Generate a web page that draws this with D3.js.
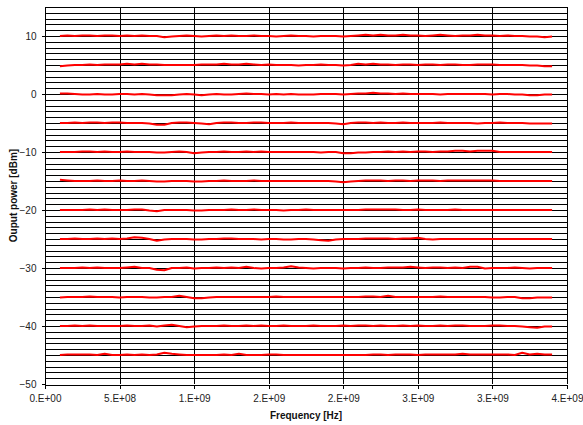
<!DOCTYPE html>
<html><head><meta charset="utf-8">
<script src="https://cdn.jsdelivr.net/npm/d3@7"></script>
<style>body{margin:0;background:#fff;} svg{display:block;font-family:"Liberation Sans",Arial,sans-serif;}</style>
</head><body><svg id="c" width="583" height="425"></svg>
<script>
// frequency grid: 1.0E8 .. 3.4E9 Hz in 5E7 steps (67 samples)
const freqStart = 1e8, freqStep = 5e7, nSamples = 67;
const xTicks = [0, 5e8, 1e9, 1.5e9, 2e9, 2.5e9, 3e9, 3.5e9];
const xTickLabels = ["0.E+00","5.E+08","1.E+09","2.E+09","2.E+09","3.E+09","3.E+09","4.E+09"];
const yTicks = [10, 0, -10, -20, -30, -40, -50];

const p10 = [10.0,10.1,10.0,10.1,10.1,10.0,10.1,10.1,10.0,10.1,10.0,10.1,10.0,10.0,
 9.8,9.9,10.0,10.1,
 10.0,9.9,10.0,10.1,10.0,10.1,10.0,10.0,10.1,10.0,10.0,9.9,10.0,10.1,10.0,10.0,9.9,10.0,
 10.0,10.0,9.9,10.0,10.1,10.2,10.1,10.2,10.1,10.1,10.2,10.1,10.1,10.0,
 10.1,10.2,10.1,10.0,10.1,10.1,10.2,10.1,10.1,10.0,10.1,10.0,10.0,9.9,9.9,9.8,9.9];
const p5 = [4.8,4.9,5.0,5.0,5.1,5.0,5.1,5.1,5.1,5.2,5.1,5.2,5.1,5.1,
 5.0,5.0,5.0,5.0,
 5.0,5.1,5.1,5.1,5.2,5.1,5.1,5.2,5.1,5.0,5.1,5.0,5.0,5.0,4.9,5.0,5.0,5.1,
 5.0,5.0,4.9,5.0,5.2,5.1,5.2,5.1,5.1,5.0,5.1,5.1,5.0,5.1,
 5.1,5.0,5.1,5.1,5.0,5.0,5.1,5.1,5.1,5.0,5.0,5.0,5.0,4.9,4.9,4.8,4.8];
const p0 = [0.1,0.1,0.0,-0.1,-0.1,0.0,-0.1,-0.1,0.0,0.0,-0.1,0.0,-0.1,-0.2,
 -0.2,-0.2,-0.1,0.0,
 -0.1,-0.2,-0.1,0.0,-0.1,-0.1,0.0,0.1,0.0,0.0,-0.1,0.0,-0.1,0.0,-0.1,-0.1,-0.1,0.0,
 0.0,0.0,-0.1,0.0,0.1,0.1,0.2,0.1,0.1,0.0,0.1,0.0,0.0,0.0,
 0.0,-0.1,0.0,0.0,0.0,0.0,0.0,0.0,-0.1,0.0,0.0,-0.1,-0.1,-0.2,-0.2,-0.1,-0.1];
const m5 = [-5.0,-5.0,-4.9,-5.0,-4.9,-4.9,-5.0,-4.9,-4.9,-5.0,-5.0,-5.0,-5.1,-5.3,
 -5.3,-5.0,-4.9,-4.9,
 -5.0,-5.1,-5.2,-5.0,-4.9,-4.9,-5.0,-5.0,-4.9,-4.9,-5.0,-5.0,-5.0,-4.9,-5.0,-5.0,-5.0,-5.0,
 -5.0,-5.1,-5.2,-5.0,-4.9,-4.9,-5.0,-4.9,-5.0,-5.0,-4.9,-5.0,-5.0,-5.0,
 -5.0,-4.9,-5.0,-5.0,-5.0,-5.0,-5.1,-5.0,-5.0,-4.9,-5.0,-5.0,-5.0,-5.1,-5.1,-5.1,-5.1];
const m10 = [-10.0,-10.0,-10.0,-9.9,-9.9,-10.0,-9.9,-10.0,-10.0,-9.9,-10.0,-10.0,-10.0,-10.1,
 -10.1,-10.0,-9.9,-10.0,
 -10.2,-10.1,-10.0,-10.0,-9.9,-10.0,-10.0,-9.9,-10.0,-9.9,-10.0,-10.0,-10.0,-10.0,-10.0,-10.0,-10.0,-10.1,
 -10.0,-10.0,-10.2,-10.2,-10.1,-10.1,-10.0,-10.0,-9.9,-10.0,-9.9,-10.0,-9.9,-9.9,
 -10.0,-9.9,-9.9,-9.8,-9.8,-9.9,-9.8,-9.8,-9.8,-10.0,-10.0,-10.0,-10.0,-10.0,-10.0,-10.0,-10.0];
const m15 = [-14.8,-14.9,-15.0,-15.0,-15.0,-14.9,-15.0,-15.0,-14.9,-15.0,-15.0,-14.9,-15.0,-15.1,
 -15.1,-15.0,-15.0,-15.0,
 -15.1,-15.1,-15.0,-15.0,-14.9,-15.0,-15.0,-15.0,-14.9,-15.0,-15.0,-15.0,-15.0,-15.0,-15.0,-15.0,-15.0,-15.0,
 -15.0,-15.1,-15.2,-15.1,-15.0,-14.9,-14.9,-14.9,-15.0,-14.9,-14.9,-15.0,-14.9,-14.9,
 -14.9,-15.0,-14.9,-14.9,-14.9,-14.9,-14.9,-14.9,-14.9,-15.0,-15.0,-15.0,-15.0,-15.0,-15.0,-15.0,-15.0];
const m20 = [-20.0,-20.0,-20.0,-20.0,-19.9,-20.0,-19.9,-20.0,-20.0,-20.0,-19.9,-19.9,-20.1,-20.2,
 -20.0,-20.0,-20.0,-20.0,
 -20.1,-20.1,-20.0,-20.0,-20.0,-19.9,-20.0,-20.0,-19.9,-20.0,-20.0,-20.0,-20.1,-20.0,-20.0,-19.9,-20.0,-20.0,
 -20.0,-20.0,-20.0,-20.0,-20.0,-19.9,-19.9,-19.9,-19.9,-19.9,-20.0,-20.0,-19.9,-20.0,
 -20.0,-20.0,-20.0,-19.9,-20.0,-20.0,-20.0,-20.0,-20.0,-20.0,-20.0,-20.0,-20.0,-20.0,-20.0,-20.0,-20.0];
const m25 = [-25.0,-25.0,-24.9,-25.0,-25.0,-24.9,-25.0,-24.9,-25.0,-24.9,-24.7,-24.8,-25.0,-25.3,
 -25.1,-25.0,-25.0,-25.0,
 -25.1,-25.1,-25.0,-25.0,-24.9,-24.9,-25.0,-25.0,-25.0,-25.1,-25.0,-25.0,-25.1,-25.1,-25.0,-25.0,-25.1,-25.2,
 -25.3,-25.1,-25.0,-25.0,-25.0,-24.9,-24.9,-24.9,-24.9,-25.0,-24.9,-24.9,-24.8,-25.0,
 -25.1,-25.0,-25.0,-25.0,-25.0,-25.0,-25.0,-25.0,-25.0,-25.0,-25.0,-25.0,-25.0,-25.0,-25.0,-25.0,-25.0];
const m30 = [-30.0,-30.0,-30.0,-29.9,-30.0,-29.9,-30.0,-30.0,-30.0,-29.9,-29.8,-30.0,-30.0,-30.3,
 -30.4,-30.0,-30.0,-29.9,
 -30.1,-30.0,-30.0,-29.9,-30.0,-29.9,-30.0,-29.8,-30.0,-30.1,-30.0,-30.0,-29.9,-29.7,-29.9,-30.0,-30.1,-30.0,
 -30.0,-30.0,-30.1,-30.0,-30.0,-29.9,-30.0,-30.0,-29.9,-29.9,-29.9,-29.8,-29.9,-30.0,
 -29.9,-29.9,-30.0,-29.9,-30.0,-29.8,-29.8,-30.1,-30.0,-30.0,-30.0,-29.9,-30.0,-30.1,-30.0,-30.0,-30.0];
const m35 = [-35.1,-35.0,-35.0,-35.0,-34.9,-35.0,-35.0,-35.0,-35.1,-35.0,-35.0,-35.0,-35.1,-35.1,
 -35.0,-35.0,-34.8,-35.0,
 -35.2,-35.2,-35.1,-35.0,-35.0,-35.0,-35.0,-35.0,-35.0,-35.0,-35.0,-34.9,-35.0,-35.0,-35.0,-35.0,-35.0,-35.0,
 -35.0,-35.0,-35.0,-35.0,-35.0,-34.9,-34.9,-35.0,-34.8,-35.0,-35.0,-35.0,-35.0,-35.0,
 -35.0,-34.9,-35.0,-35.0,-35.0,-35.0,-35.0,-35.0,-35.1,-35.1,-35.0,-35.0,-35.2,-35.2,-35.1,-35.1,-35.1];
const m40 = [-40.0,-40.0,-39.9,-40.0,-39.9,-40.0,-40.0,-40.0,-40.0,-39.9,-40.0,-40.0,-39.9,-40.1,
 -39.9,-39.8,-40.0,-40.2,
 -40.1,-40.0,-40.0,-40.0,-39.9,-40.0,-40.0,-39.9,-40.0,-39.9,-40.0,-40.0,-39.9,-40.0,-40.0,-40.0,-39.9,-40.0,
 -40.0,-40.0,-39.9,-40.0,-39.9,-39.9,-40.0,-39.9,-40.0,-40.0,-39.9,-40.0,-39.9,-40.0,
 -40.0,-39.9,-40.0,-39.9,-39.9,-40.0,-40.0,-40.0,-39.9,-39.9,-40.0,-40.0,-40.1,-40.2,-40.3,-40.1,-40.1];
const m45 = [-45.0,-44.9,-44.9,-44.9,-44.9,-45.0,-44.8,-45.0,-45.0,-44.9,-45.0,-44.9,-45.0,-44.9,
 -44.6,-44.8,-44.9,-45.0,
 -45.0,-45.0,-45.0,-45.0,-44.9,-45.0,-44.8,-45.0,-45.0,-45.0,-44.9,-44.9,-45.0,-45.0,-45.0,-45.0,-45.0,-45.0,
 -45.0,-45.0,-45.0,-45.0,-45.0,-45.0,-44.9,-44.9,-45.0,-44.9,-44.9,-44.9,-45.0,-44.9,
 -44.9,-44.9,-44.9,-44.9,-44.8,-44.9,-44.9,-44.9,-44.9,-44.9,-44.9,-45.0,-44.6,-44.9,-44.8,-44.9,-44.9];

const seriesList = [p10, p5, p0, m5, m10, m15, m20, m25, m30, m35, m40, m45];
const freqs = d3.range(nSamples).map(i => freqStart + i * freqStep);

const svg = d3.select("#c");
const L = 45, R = 567, T = 7, B = 384;
const x = d3.scaleLinear().domain([0, 3.5e9]).range([L, R]);
const y = d3.scaleLinear().domain([-50, 15]).range([B, T]);

// horizontal gridlines every 1 dB
const g = svg.append("g").attr("shape-rendering", "crispEdges");
g.selectAll("line.h").data(d3.range(-49, 16)).join("line")
  .attr("x1", L).attr("x2", R)
  .attr("y1", d => Math.round(y(d)) + 0.5).attr("y2", d => Math.round(y(d)) + 0.5)
  .attr("stroke", "#000").attr("stroke-width", 1);
// vertical gridlines
g.selectAll("line.v").data(xTicks.slice(1)).join("line")
  .attr("x1", d => Math.round(x(d)) + 0.5).attr("x2", d => Math.round(x(d)) + 0.5)
  .attr("y1", T).attr("y2", B)
  .attr("stroke", "#000").attr("stroke-width", 1);

// axes
const xAxis = d3.axisBottom(x).tickValues(xTicks).tickSize(4).tickPadding(6)
  .tickFormat((d, i) => xTickLabels[i]);
const xa = svg.append("g").attr("transform", `translate(0,${Math.round(B) + 0.5})`).call(xAxis);
const yAxis = d3.axisLeft(y).tickValues(yTicks).tickSize(4).tickPadding(5);
const ya = svg.append("g").attr("transform", `translate(${L + 0.5},0)`).call(yAxis);
[xa, ya].forEach(a => {
  a.select(".domain").attr("stroke", "#000").attr("shape-rendering", "crispEdges");
  a.selectAll(".tick line").attr("stroke", "#000").attr("shape-rendering", "crispEdges");
  a.selectAll("text").attr("font-size", 10).attr("fill", "#222")
    .attr("font-family", '"Liberation Sans",Arial,sans-serif');
});
ya.select(".domain").attr("d", `M0,${T}V${B}`);

// series lines
const line = d3.line().x((d, i) => x(freqs[i])).y(d => y(d));
svg.append("g").selectAll("path").data(seriesList).join("path")
  .attr("d", line).attr("fill", "none").attr("stroke", "#ff0000")
  .attr("stroke-width", 2).attr("stroke-linejoin", "round");

// titles
svg.append("text").attr("x", (L + R) / 2).attr("y", 419).attr("text-anchor", "middle")
  .attr("font-size", 10).attr("font-weight", "bold").attr("fill", "#111").text("Frequency [Hz]");
svg.append("text").attr("transform", `translate(17,${(T + B) / 2}) rotate(-90)`)
  .attr("text-anchor", "middle").attr("font-size", 10).attr("font-weight", "bold").attr("fill", "#111")
  .text("Ouput power [dBm]");
</script></body></html>
